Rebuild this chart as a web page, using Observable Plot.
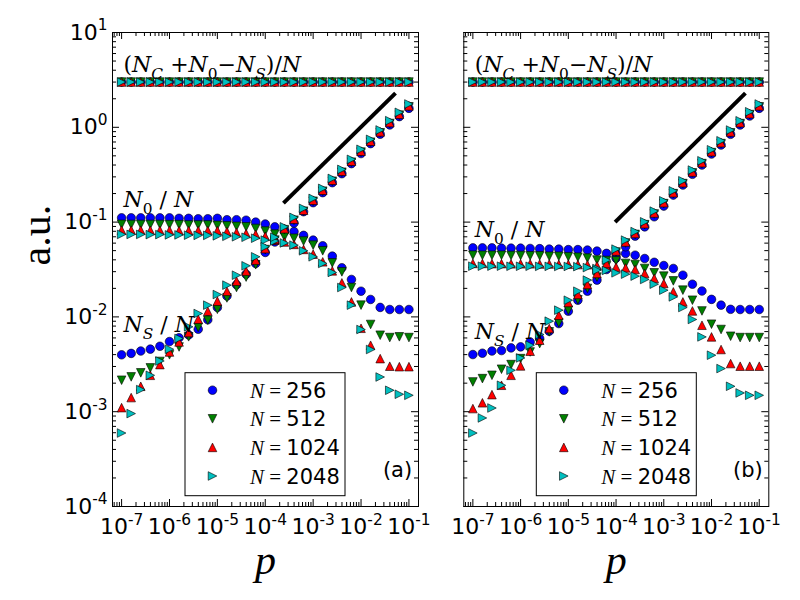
<!DOCTYPE html>
<html><head><meta charset="utf-8">
<script src="https://cdn.jsdelivr.net/npm/d3@7"></script>
<script src="https://cdn.jsdelivr.net/npm/@observablehq/plot@0.6"></script>
<style>
body{margin:0;background:#fff;}
#wrap{position:relative;width:800px;height:600px;overflow:hidden;background:#fff;}
#wrap svg{position:absolute;top:0;}
</style></head><body><div id="wrap"></div>
<script>
// ---------- data (exponents) ----------
const pExp = [-7,-6.8,-6.6,-6.4,-6.2,-6,-5.8,-5.6,-5.4,-5.2,-5,-4.8,-4.6,-4.4,-4.2,-4,-3.8,-3.6,-3.4,-3.2,-3,-2.8,-2.6,-2.4,-2.2,-2,-1.8,-1.6,-1.4,-1.2,-1];
const seriesLabels = ["256","512","1024","2048"];
// (N_C + N_0 - N_S)/N  (same in both panels, all N)
const sumRatio = [3,3,3,3,3,3,3,3,3,3,3,3,3,3,3,3,3,3,3,3,3,3,3,3,3,3,3,3,3,3,3];
// panel (a): log10 N_0/N
const a_N0_256  = [-0.955,-0.955,-0.955,-0.955,-0.955,-0.955,-0.96,-0.96,-0.965,-0.965,-0.96,-0.975,-0.975,-0.98,-1.0,-1.02,-1.05,-1.075,-1.1,-1.14,-1.19,-1.25,-1.359,-1.482,-1.605,-1.729,-1.816,-1.9,-1.922,-1.922,-1.922];
const a_N0_512  = [-1.024,-1.025,-1.025,-1.025,-1.025,-1.027,-1.027,-1.03,-1.03,-1.03,-1.035,-1.04,-1.045,-1.05,-1.067,-1.095,-1.127,-1.155,-1.17,-1.2,-1.243,-1.303,-1.43,-1.525,-1.69,-1.876,-2.08,-2.193,-2.218,-2.21,-2.218];
const a_N0_1024 = [-1.085,-1.085,-1.085,-1.087,-1.087,-1.087,-1.09,-1.09,-1.09,-1.09,-1.09,-1.1,-1.11,-1.12,-1.13,-1.15,-1.19,-1.21,-1.235,-1.288,-1.338,-1.419,-1.514,-1.641,-1.842,-2.12,-2.299,-2.44,-2.52,-2.525,-2.525];
const a_N0_2048 = [-1.13,-1.13,-1.13,-1.132,-1.132,-1.135,-1.135,-1.138,-1.14,-1.14,-1.145,-1.15,-1.155,-1.16,-1.17,-1.19,-1.2,-1.22,-1.243,-1.303,-1.366,-1.436,-1.531,-1.69,-1.876,-2.133,-2.344,-2.634,-2.774,-2.816,-2.827];
// panel (a): log10 N_S/N
const a_NS_256  = [-2.4,-2.385,-2.36,-2.34,-2.31,-2.26,-2.22,-2.19,-2.13,-2.03,-1.9,-1.78,-1.66,-1.55,-1.436,-1.32,-1.21,-1.1,-1.01,-0.89,-0.795,-0.689,-0.584,-0.489,-0.383,-0.277,-0.172,-0.073,0.025,0.113,0.2];
const a_NS_512  = [-2.668,-2.633,-2.59,-2.538,-2.47,-2.4,-2.317,-2.21,-2.11,-2.035,-1.92,-1.8,-1.69,-1.58,-1.45,-1.29,-1.19,-1.08,-0.98,-0.885,-0.78,-0.674,-0.569,-0.474,-0.368,-0.262,-0.157,-0.058,0.04,0.128,0.216];
const a_NS_1024 = [-2.957,-2.851,-2.732,-2.616,-2.503,-2.37,-2.264,-2.165,-2.024,-1.94,-1.834,-1.73,-1.623,-1.517,-1.401,-1.28,-1.18,-1.07,-0.97,-0.875,-0.77,-0.664,-0.559,-0.464,-0.358,-0.252,-0.147,-0.048,0.05,0.138,0.226];
const a_NS_2048 = [-3.225,-3.02,-2.767,-2.616,-2.465,-2.341,-2.228,-2.105,-1.964,-1.876,-1.764,-1.665,-1.56,-1.461,-1.366,-1.26,-1.16,-1.05,-0.95,-0.855,-0.75,-0.644,-0.539,-0.444,-0.338,-0.232,-0.127,-0.028,0.07,0.158,0.246];
// panel (b): log10 N_0/N
const b_N0_256  = [-1.272,-1.272,-1.272,-1.275,-1.275,-1.275,-1.278,-1.28,-1.285,-1.285,-1.29,-1.29,-1.295,-1.306,-1.33,-1.33,-1.331,-1.349,-1.384,-1.424,-1.458,-1.489,-1.56,-1.655,-1.727,-1.815,-1.876,-1.92,-1.922,-1.922,-1.922];
const b_N0_512  = [-1.349,-1.35,-1.35,-1.35,-1.352,-1.352,-1.355,-1.355,-1.36,-1.36,-1.365,-1.37,-1.38,-1.4,-1.405,-1.409,-1.436,-1.447,-1.489,-1.535,-1.57,-1.62,-1.718,-1.824,-1.937,-2.077,-2.133,-2.204,-2.218,-2.218,-2.218];
const b_N0_1024 = [-1.436,-1.436,-1.438,-1.438,-1.44,-1.44,-1.44,-1.442,-1.442,-1.445,-1.445,-1.448,-1.45,-1.46,-1.47,-1.475,-1.483,-1.5,-1.542,-1.594,-1.647,-1.736,-1.842,-1.937,-2.088,-2.211,-2.344,-2.492,-2.52,-2.52,-2.52];
const b_N0_2048 = [-1.465,-1.465,-1.465,-1.465,-1.466,-1.466,-1.466,-1.467,-1.467,-1.468,-1.468,-1.47,-1.48,-1.49,-1.51,-1.535,-1.549,-1.57,-1.605,-1.655,-1.718,-1.789,-1.901,-2.027,-2.211,-2.404,-2.545,-2.732,-2.802,-2.827,-2.827];
// panel (b): log10 N_S/N
const b_NS_256  = [-2.397,-2.383,-2.36,-2.355,-2.327,-2.316,-2.264,-2.228,-2.151,-2.07,-1.94,-1.824,-1.729,-1.612,-1.5,-1.38,-1.26,-1.148,-1.05,-0.944,-0.831,-0.715,-0.609,-0.496,-0.398,-0.282,-0.187,-0.074,0.024,0.119,0.2];
const b_NS_512  = [-2.686,-2.651,-2.616,-2.552,-2.503,-2.44,-2.37,-2.282,-2.158,-2.063,-1.93,-1.82,-1.7,-1.58,-1.46,-1.315,-1.22,-1.13,-1.027,-0.914,-0.805,-0.7,-0.594,-0.481,-0.383,-0.267,-0.172,-0.059,0.039,0.134,0.216];
const b_NS_1024 = [-2.967,-2.906,-2.82,-2.721,-2.616,-2.517,-2.362,-2.246,-2.123,-1.982,-1.848,-1.763,-1.658,-1.542,-1.436,-1.305,-1.21,-1.12,-1.017,-0.904,-0.795,-0.69,-0.584,-0.471,-0.373,-0.257,-0.162,-0.049,0.049,0.144,0.226];
const b_NS_2048 = [-3.225,-3.066,-2.961,-2.721,-2.563,-2.433,-2.299,-2.186,-2.045,-1.929,-1.824,-1.729,-1.612,-1.507,-1.401,-1.285,-1.19,-1.1,-0.997,-0.884,-0.775,-0.67,-0.564,-0.451,-0.353,-0.237,-0.142,-0.029,0.069,0.164,0.246];
// slope-1/2 guide lines (log10 endpoints)
const guideA_p = [-3.62, -1.28], guideA_v = [-0.80, 0.36];
const guideB_p = [-4.02, -1.29], guideB_v = [-1.00, 0.36];
// annotation anchors (log10)
const annA = [{k:"sum", p:-6.96, v:0.658},{k:"n0", p:-6.96, v:-0.768},{k:"ns", p:-6.96, v:-2.087}];
const annB = [{k:"sum", p:-6.96, v:0.658},{k:"n0", p:-6.96, v:-1.085},{k:"ns", p:-6.96, v:-2.158}];
const xTickExp = [-7,-6,-5,-4,-3,-2,-1];
const yTickExp = [-4,-3,-2,-1,0,1];

// ---------- styling ----------
const colors = ["#0000ff","#008000","#ff0000","#00bfbf"];
const rad = s => Math.sqrt(s/Math.PI);
const symCircle = {draw(c,s){const r=rad(s); c.moveTo(r,0); c.arc(0,0,r,0,2*Math.PI);}};
const symDown = {draw(c,s){const r=rad(s); c.moveTo(0,r); c.lineTo(-r,-r); c.lineTo(r,-r); c.closePath();}};
const symUp = {draw(c,s){const r=rad(s); c.moveTo(0,-r); c.lineTo(-r,r); c.lineTo(r,r); c.closePath();}};
const symRight = {draw(c,s){const r=rad(s); c.moveTo(r,0); c.lineTo(-r,-r); c.lineTo(-r,r); c.closePath();}};
const symbols = [symCircle, symDown, symUp, symRight];
const R = 4.3;
const xDomain = [10**-7.19, 10**-0.80];
const yDomain = [1e-4, 10];
const MATH = "DejaVu Serif";

const richParts = {
  sum: [["(",""],["N","i"],["C","i sub"],[" +",""],["N","i"],["0","sub"],["\u2212",""],["N","i"],["S","i sub"],[")/",""],["N","i"]],
  n0: [["N","i"],["0","sub"],[" / ",""],["N","i"]],
  ns: [["N","i"],["S","i sub"],[" / ",""],["N","i"]]
};
const NS = "http://www.w3.org/2000/svg";
function richText(el, parts, fs) {
  el.textContent = "";
  let shift = 0;
  for (const [s, st] of parts) {
    const ts = document.createElementNS(NS, "tspan");
    let target = 0, size = fs;
    if (st.includes("sub")) { target = fs*0.3; size = fs*0.7; }
    if (st.includes("sup")) { target = -fs*0.42; size = fs*0.7; }
    ts.setAttribute("dy", (target - shift).toFixed(2)); shift = target;
    ts.setAttribute("font-size", size);
    if (st.split(" ").includes("i")) ts.setAttribute("font-style", "italic");
    ts.textContent = s;
    el.appendChild(ts);
  }
}

function isPow10(d){const l=Math.log10(d); return Math.abs(l-Math.round(l))<1e-9;}
const xAll = d3.scaleLog().domain(xDomain).ticks();
const xMaj = xTickExp.map(e=>10**e), xMin = xAll.filter(d=>!isPow10(d));
const yAll = d3.scaleLog().domain(yDomain).ticks();
const yMaj = yTickExp.map(e=>10**e), yMin = yAll.filter(d=>!isPow10(d));

function makePanel({left, width, ml, mr, N0, NSr, gP, gV, ann, tag, showY}) {
  const mt = 32, mb = 94, H = 600;
  const fw = width - ml - mr, fh = H - mt - mb;
  const marks = [];
  // inward ticks on all four sides
  marks.push(
    Plot.tickX(xMaj, {x:d=>d, insetTop: fh-7, stroke:"black"}),
    Plot.tickX(xMaj, {x:d=>d, insetBottom: fh-7, stroke:"black"}),
    Plot.tickX(xMin, {x:d=>d, insetTop: fh-4, stroke:"black"}),
    Plot.tickX(xMin, {x:d=>d, insetBottom: fh-4, stroke:"black"}),
    Plot.tickY(yMaj, {y:d=>d, insetRight: fw-7, stroke:"black"}),
    Plot.tickY(yMaj, {y:d=>d, insetLeft: fw-7, stroke:"black"}),
    Plot.tickY(yMin, {y:d=>d, insetRight: fw-4, stroke:"black"}),
    Plot.tickY(yMin, {y:d=>d, insetLeft: fw-4, stroke:"black"})
  );
  seriesLabels.forEach((s, i) => {
    const rows = [];
    pExp.forEach((e, k) => {
      rows.push({p:10**e, v:sumRatio[k]});
      rows.push({p:10**e, v:10**N0[i][k]});
      rows.push({p:10**e, v:10**NSr[i][k]});
    });
    marks.push(Plot.dot(rows, {x:"p", y:"v", symbol: symbols[i], r: R, fill: colors[i], stroke:"black", strokeWidth:0.6}));
  });
  const guide = gP.map((e, j) => ({p:10**e, v:10**gV[j]}));
  marks.push(Plot.line(guide, {x:"p", y:"v", stroke:"black", strokeWidth:4, strokeLinecap:"butt"}));
  marks.push(Plot.text(ann, {x:d=>10**d.p, y:d=>10**d.v, text:"k", textAnchor:"start", lineAnchor:"middle", fontFamily:MATH, fontSize:22}));
  marks.push(Plot.text([tag], {text:d=>d, frameAnchor:"bottom-right", dx:-21, dy:-36, textAnchor:"middle", lineAnchor:"middle", fontSize:21, fontFamily:"DejaVu Sans"}));
  marks.push(Plot.frame({stroke:"black", strokeWidth:1}));
  marks.push(Plot.axisX({ticks: xMaj, tickSize:0, tickPadding:12, fontSize:22, label:null, tickFormat: d => "10^" + Math.round(Math.log10(d))}));
  marks.push(Plot.text(["p"], {text:d=>d, frameAnchor:"bottom", dy:54, lineAnchor:"middle", fontSize:42, fontStyle:"italic", fontFamily:"Liberation Serif"}));
  if (showY) {
    marks.push(Plot.axisY({ticks: yMaj, tickSize:0, tickPadding:5, fontSize:22, label:null, tickFormat: d => "10^" + Math.round(Math.log10(d))}));
    marks.push(Plot.text(["a.u."], {text:d=>d, frameAnchor:"left", rotate:-90, dx:-76, dy:-4, lineAnchor:"middle", fontSize:42, fontFamily:"Liberation Serif"}));
  }
  const svg = Plot.plot({
    width, height: H, marginLeft: ml, marginRight: mr, marginTop: mt, marginBottom: mb,
    x: {type:"log", domain: xDomain, label:null, axis: null},
    y: {type:"log", domain: yDomain, label:null, axis: null},
    style: {fontFamily:"DejaVu Sans", background:"transparent", overflow:"visible", color:"black"},
    marks
  });
  svg.style.left = left + "px";
  // rich text: superscripts on tick labels, subscripts on annotations
  svg.querySelectorAll("text").forEach(t => {
    const s = t.textContent;
    if (/^10\^/.test(s)) {
      const [b, e] = s.split("^");
      richText(t, [[b,""],[e,"sup"]], 22);
    } else if (richParts[s]) {
      richText(t, richParts[s], 22);
    }
  });
  // legend (inside lower middle of the frame)
  const x0 = ml + 73, y0 = 372.7;
  const g = d3.select(svg).append("g");
  g.append("rect").attr("x", x0).attr("y", y0).attr("width", 160).attr("height", 123)
    .attr("fill", "white").attr("stroke", "black").attr("stroke-width", 1);
  seriesLabels.forEach((lab, i) => {
    const cy = y0 + 17.5 + i*28.6;
    g.append("path").attr("transform", `translate(${x0+27.5},${cy})`)
      .attr("d", d3.symbol(symbols[i], Math.PI*R*R)())
      .attr("fill", colors[i]).attr("stroke", "black").attr("stroke-width", 0.6);
    const t = g.append("text").attr("x", x0+65).attr("y", cy).attr("dy", "0.36em")
      .attr("font-size", 21).attr("fill","black").attr("text-anchor","start");
    t.append("tspan").attr("font-family", "Liberation Serif").attr("font-style", "italic").text("N");
    t.append("tspan").attr("font-family", "Liberation Serif").text(" = ");
    t.append("tspan").attr("font-family", "DejaVu Sans").text(lab);
  });
  document.getElementById("wrap").appendChild(svg);
}

makePanel({left:0, width:420, ml:112, mr:2,
  N0:[a_N0_256,a_N0_512,a_N0_1024,a_N0_2048], NSr:[a_NS_256,a_NS_512,a_NS_1024,a_NS_2048],
  gP:guideA_p, gV:guideA_v, ann:annA, tag:"(a)", showY:true});
makePanel({left:420, width:380, ml:43.3, mr:31.7,
  N0:[b_N0_256,b_N0_512,b_N0_1024,b_N0_2048], NSr:[b_NS_256,b_NS_512,b_NS_1024,b_NS_2048],
  gP:guideB_p, gV:guideB_v, ann:annB, tag:"(b)", showY:false});
</script>
</body></html>
